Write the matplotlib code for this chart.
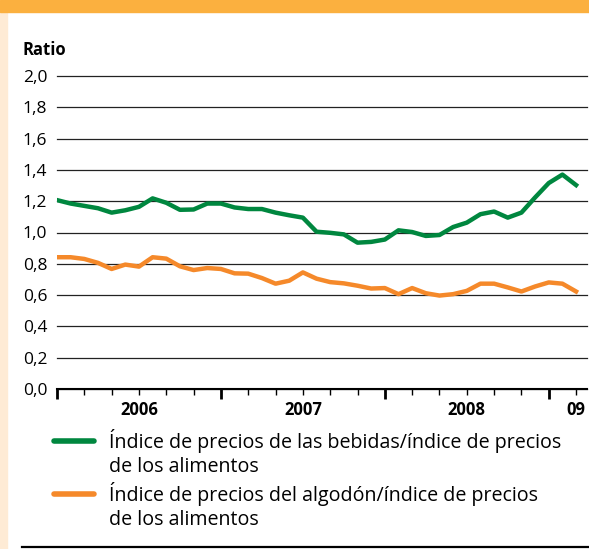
import matplotlib
matplotlib.use("Agg")
import matplotlib.pyplot as plt
from matplotlib.lines import Line2D
from matplotlib.patches import Rectangle

# monthly values, Jan 2006 .. Mar 2009 (month index 0..38)
months = list(range(39))
bebidas = [1.207, 1.185, 1.170, 1.155, 1.127, 1.142, 1.164, 1.218, 1.190, 1.145,
           1.147, 1.185, 1.185, 1.160, 1.150, 1.150, 1.127, 1.110, 1.095, 1.005,
           0.998, 0.988, 0.935, 0.940, 0.955, 1.014, 1.003, 0.978, 0.984, 1.035,
           1.063, 1.117, 1.134, 1.095, 1.127, 1.224, 1.316, 1.370, 1.303]
algodon = [0.842, 0.842, 0.831, 0.806, 0.767, 0.795, 0.782, 0.842, 0.833, 0.784,
           0.760, 0.773, 0.767, 0.739, 0.737, 0.709, 0.673, 0.692, 0.745, 0.705,
           0.683, 0.675, 0.660, 0.642, 0.645, 0.606, 0.645, 0.612, 0.597, 0.606,
           0.627, 0.673, 0.673, 0.649, 0.623, 0.655, 0.681, 0.673, 0.623]
year_labels = ["2006", "2007", "2008", "09"]
year_label_pos = [6, 18, 30, 38]
yticks = [0.0, 0.2, 0.4, 0.6, 0.8, 1.0, 1.2, 1.4, 1.6, 1.8, 2.0]
legend_labels = ["Índice de precios de las bebidas/índice de precios\nde los alimentos",
                 "Índice de precios del algodón/índice de precios\nde los alimentos"]

GREEN = "#00873f"
ORANGE = "#f5892a"
BAR = "#fbb03f"
STRIP = "#feebd5"

plt.rcParams["font.family"] = ["Open Sans", "DejaVu Sans"]

W, H = 589, 549
fig = plt.figure(figsize=(W / 100, H / 100), dpi=100)

# frame decorations
fig.patches.append(Rectangle((0, 0), 7 / W, 1, transform=fig.transFigure,
                             color=STRIP, zorder=0))
fig.patches.append(Rectangle((0, 1 - 12 / H), 1, 12 / H, transform=fig.transFigure,
                             color=BAR, zorder=1))
fig.lines.append(Line2D([22 / W, 1], [1 - 547 / H] * 2, transform=fig.transFigure,
                        color="black", lw=1.6))

ax = fig.add_axes([57 / W, 1 - 389 / H, (587 - 57) / W, (389 - 76) / H])
ax.plot(months, bebidas, color=GREEN, lw=3.2, solid_joinstyle="round", zorder=3)
ax.plot(months, algodon, color=ORANGE, lw=3.2, solid_joinstyle="round", zorder=3)

ax.set_xlim(0, 38.8)
ax.set_ylim(0, 2.0)
ax.set_yticks(yticks)
ax.set_yticklabels([f"{v:.1f}".replace(".", ",") for v in yticks], fontsize=12.5)
ax.tick_params(axis="y", length=0, pad=7)
ax.grid(axis="y", color="#222222", lw=0.9, zorder=1)
for gl in ax.get_ygridlines():
    gl.set_clip_on(False)

ax.set_xticks([0, 12, 24, 36])
ax.set_xticks([m for m in range(0, 39, 2) if m % 12], minor=True)
ax.set_xticklabels([])
ax.tick_params(axis="x", which="major", length=7, width=2, direction="out")
ax.tick_params(axis="x", which="minor", length=4, width=1, direction="out")
for lab, pos in zip(year_labels, year_label_pos):
    ax.text(pos, -0.067, lab, transform=ax.get_xaxis_transform(), ha="center",
            va="center", fontsize=12, fontweight="bold")

for s in ("top", "right", "left"):
    ax.spines[s].set_visible(False)
ax.spines["bottom"].set_linewidth(1.5)
ax.set_facecolor("none")

fig.text(22 / W, 1 - 50 / H, "Ratio", fontsize=12, fontweight="bold",
         ha="left", va="center")

# legend drawn by hand
for col, lab, yy in zip([GREEN, ORANGE], legend_labels, [441, 494]):
    fig.lines.append(Line2D([54 / W, 94 / W], [1 - yy / H] * 2,
                            transform=fig.transFigure, color=col, lw=4,
                            solid_capstyle="round"))
    fig.text(109 / W, 1 - (yy - 12) / H, lab, fontsize=14.1, ha="left", va="top",
             linespacing=1.27)

fig.savefig("out.png", dpi=100)
